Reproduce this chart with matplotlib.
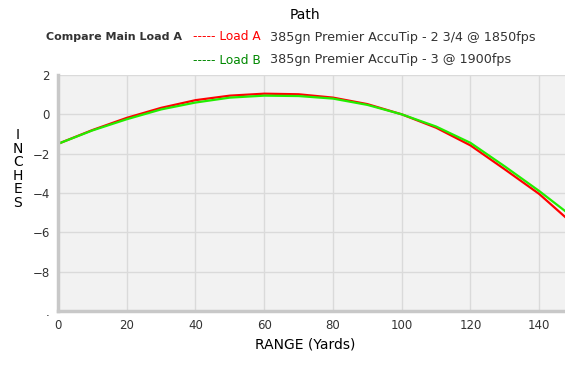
"""Bullet path comparison: Load A vs Load B."""

import matplotlib.pyplot as plt

RANGE_YDS = [0, 10, 20, 30, 40, 50, 60, 70, 80, 90, 100, 110, 120, 130, 140, 150]
PATH_A = [-1.5, -0.8, -0.18, 0.33, 0.72, 0.95, 1.05, 1.02, 0.85, 0.52, 0.0,
          -0.68, -1.58, -2.8, -4.05, -5.6]
PATH_B = [-1.5, -0.82, -0.25, 0.25, 0.6, 0.85, 0.95, 0.93, 0.8, 0.48, 0.0,
          -0.62, -1.45, -2.65, -3.9, -5.25]

Y_TICKS = [2, 0, -2, -4, -6, -8, -10]
Y_TICK_LABELS = ["2", "0", "\u22122", "\u22124", "\u22126", "\u22128", "."]
X_TICKS = [0, 20, 40, 60, 80, 100, 120, 140]

LOAD_A_DESC = "385gn Premier AccuTip - 2 3/4 @ 1850fps"
LOAD_B_DESC = "385gn Premier AccuTip - 3 @ 1900fps"

fig = plt.figure(figsize=(5.65, 3.68), dpi=100)
ax = fig.add_axes([58 / 565, 57 / 368, 1 - 58 / 565, 236 / 368])
ax.set_facecolor("#f2f2f2")

ax.plot(RANGE_YDS, PATH_A, c="#ff0000", lw=1.6)
ax.plot(RANGE_YDS, PATH_B, c="#22ee00", lw=1.6)

ax.set_xlim(0, 147.5)
ax.set_ylim(-10, 2)
ax.set_xticks(X_TICKS)
ax.set_yticks(Y_TICKS)
ax.set_yticklabels(Y_TICK_LABELS)
ax.grid(c="#dadada", lw=1)
ax.set_axisbelow(True)
ax.tick_params(length=0, labelsize=8.5, labelcolor="#333333", pad=6)
for side in ["top", "right"]:
    ax.spines[side].set_visible(False)
for side in ["left", "bottom"]:
    ax.spines[side].set_color("#c8c8c8")
    ax.spines[side].set_linewidth(2.5)

# header texts
fig.text(305 / 565, 1 - 15 / 368, "Path", ha="center", va="center", fontsize=10)
fig.text(46 / 565, 1 - 37 / 368, "Compare Main Load A", ha="left", va="center",
         fontsize=8, fontweight="bold", color="#333333")
fig.text(193 / 565, 1 - 37 / 368, "----- Load A", ha="left", va="center",
         fontsize=8.7, color="#ff0000")
fig.text(193 / 565, 1 - 60 / 368, "----- Load B", ha="left", va="center",
         fontsize=8.7, color="#008800")
fig.text(270 / 565, 1 - 37 / 368, LOAD_A_DESC, ha="left", va="center",
         fontsize=9.2, color="#333333")
fig.text(270 / 565, 1 - 60 / 368, LOAD_B_DESC, ha="left", va="center",
         fontsize=9.2, color="#333333")

# axis labels
fig.text(18 / 565, 1 - 169 / 368, "\n".join("INCHES"), ha="center", va="center",
         fontsize=10, linespacing=0.95)
fig.text(305 / 565, 1 - 345 / 368, "RANGE (Yards)", ha="center", va="center",
         fontsize=10)

fig.savefig("out.png", dpi=100)
